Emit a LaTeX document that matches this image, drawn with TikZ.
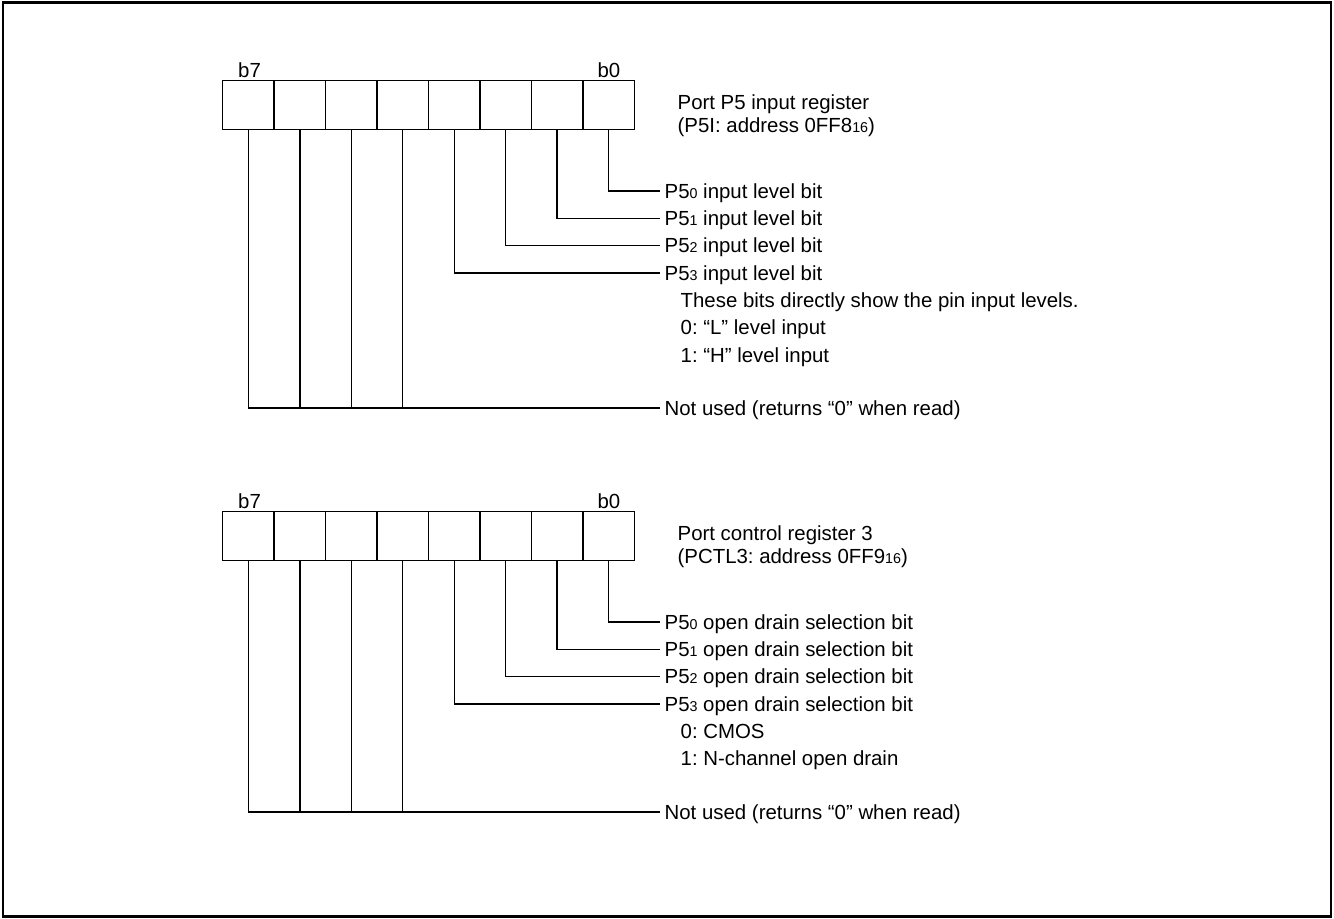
\documentclass[tikz,border=0pt]{standalone}
\usepackage{fontspec}
\setmainfont{Liberation Sans}
\frenchspacing
\newcommand\subd[1]{{\fontsize{10.7pt}{10.7pt}\selectfont #1}}
\begin{document}
\begin{tikzpicture}[x=0.75pt,y=-0.75pt,line width=1pt,
  cell/.style={draw,line width=1pt,minimum width=38.59pt,minimum height=36.45pt,inner sep=0pt},
  lbl/.style={font=\fontsize{15.3pt}{18pt}\selectfont\frenchspacing,inner xsep=3pt,inner ysep=0pt,
              text height=11pt,text depth=0pt,anchor=west},
  bitlbl/.style={lbl,anchor=center},
  conn/.style={line width=1pt}]
\useasboundingbox (0,0) rectangle (1334,918);
\draw[line width=1.6pt] (3,2.5) rectangle (1331,916.5);

% ---------------- Register 1 ----------------
\foreach \b in {0,...,7}
  \node[cell] (r1b\b) at ({222.7+(7.5-\b)*51.45},105) {};
\node[bitlbl] (r1l7) at (249.5,70) {b7};
\node[bitlbl] (r1l0) at (608.9,70) {b0};
\node[lbl] (r1h1) at (673,102) {Port P5 input register};
\node[lbl] (r1h2) at (673,125) {(P5I: address 0FF8\subd{16})};

\node[lbl] (r1t0) at (660,191) {P5\subd{0} input level bit};
\node[lbl] (r1t1) at (660,218.3) {P5\subd{1} input level bit};
\node[lbl] (r1t2) at (660,245.6) {P5\subd{2} input level bit};
\node[lbl] (r1t3) at (660,272.9) {P5\subd{3} input level bit};
\node[lbl] (r1d1) at (676,300.2) {These bits directly show the pin input levels.};
\node[lbl] (r1d2) at (676,327.5) {0: “L” level input};
\node[lbl] (r1d3) at (676,354.8) {1: “H” level input};
\node[lbl] (r1nu) at (660,408) {Not used (returns “0” when read)};

\foreach \b in {0,...,3}
  \draw[conn] (r1b\b.south) |- (r1t\b.west);
\draw[conn] (r1b7.south) |- (r1nu.west);
\foreach \b in {4,5,6}
  \draw[conn] (r1b\b.south) -- (r1b\b.south |- r1nu.west);

% ---------------- Register 2 ----------------
\foreach \b in {0,...,7}
  \node[cell] (r2b\b) at ({222.7+(7.5-\b)*51.45},536) {};
\node[bitlbl] (r2l7) at (249.5,501) {b7};
\node[bitlbl] (r2l0) at (608.9,501) {b0};
\node[lbl] (r2h1) at (673,533) {Port control register 3};
\node[lbl] (r2h2) at (673,556) {(PCTL3: address 0FF9\subd{16})};

\node[lbl] (r2t0) at (660,622) {P5\subd{0} open drain selection bit};
\node[lbl] (r2t1) at (660,649.3) {P5\subd{1} open drain selection bit};
\node[lbl] (r2t2) at (660,676.6) {P5\subd{2} open drain selection bit};
\node[lbl] (r2t3) at (660,703.9) {P5\subd{3} open drain selection bit};
\node[lbl] (r2d1) at (676,731.2) {0: CMOS};
\node[lbl] (r2d2) at (676,758.5) {1: N-channel open drain};
\node[lbl] (r2nu) at (660,812) {Not used (returns “0” when read)};

\foreach \b in {0,...,3}
  \draw[conn] (r2b\b.south) |- (r2t\b.west);
\draw[conn] (r2b7.south) |- (r2nu.west);
\foreach \b in {4,5,6}
  \draw[conn] (r2b\b.south) -- (r2b\b.south |- r2nu.west);
\end{tikzpicture}
\end{document}
